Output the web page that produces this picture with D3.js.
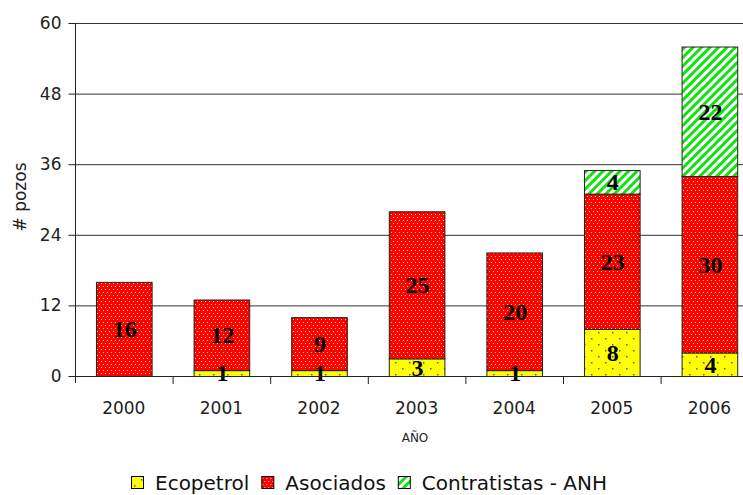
<!DOCTYPE html>
<html>
<head>
<meta charset="utf-8">
<script src="https://cdn.jsdelivr.net/npm/d3@7"></script>
<style>
  body { margin: 0; background: #fff; }
  svg { display: block; }
</style>
</head>
<body>
<svg id="chart" width="743" height="495"></svg>
<script>
// wells drilled per year, by operator
const years = ["2000", "2001", "2002", "2003", "2004", "2005", "2006"];
const ecopetrol = [0, 1, 1, 3, 1, 8, 4];
const asociados = [16, 12, 9, 25, 20, 23, 30];
const contratistas = [0, 0, 0, 0, 0, 4, 22];
const seriesNames = ["Ecopetrol", "Asociados", "Contratistas - ANH"];
const yTicks = [0, 12, 24, 36, 48, 60];

const svg = d3.select("#chart");
const plotLeft = 75, plotTop = 23, plotBottom = 376;
const step = 97.6;

const rows = years.map((y, i) => ({
  year: y,
  Ecopetrol: ecopetrol[i],
  Asociados: asociados[i],
  "Contratistas - ANH": contratistas[i],
}));

const x = d3.scaleBand()
  .domain(years)
  .range([plotLeft, plotLeft + step * years.length])
  .paddingInner(0.43)
  .paddingOuter(0.215);

const y = d3.scaleLinear().domain([0, 60]).range([plotBottom, plotTop]);

// fill patterns
const defs = svg.append("defs");

const pRed = defs.append("pattern")
  .attr("id", "p-red").attr("patternUnits", "userSpaceOnUse")
  .attr("width", 4).attr("height", 6);
pRed.append("rect").attr("width", 4).attr("height", 6).attr("fill", "#ff0000");
pRed.append("rect").attr("x", 1).attr("y", 1).attr("width", 1).attr("height", 1).attr("fill", "#ffe070");
pRed.append("rect").attr("x", 3).attr("y", 4).attr("width", 1).attr("height", 1).attr("fill", "#ffe070");

const pYel = defs.append("pattern")
  .attr("id", "p-yel").attr("patternUnits", "userSpaceOnUse")
  .attr("width", 14).attr("height", 12);
pYel.append("rect").attr("width", 14).attr("height", 12).attr("fill", "#ffff00");
pYel.append("rect").attr("x", 3).attr("y", 2).attr("width", 1.5).attr("height", 1.5).attr("fill", "#5050c8");
pYel.append("rect").attr("x", 10).attr("y", 8).attr("width", 1.5).attr("height", 1.5).attr("fill", "#5050c8");

const pGrn = defs.append("pattern")
  .attr("id", "p-grn").attr("patternUnits", "userSpaceOnUse")
  .attr("width", 6).attr("height", 6)
  .attr("patternTransform", "rotate(45)");
pGrn.append("rect").attr("width", 6).attr("height", 6).attr("fill", "#ffffff");
pGrn.append("rect").attr("width", 3).attr("height", 6).attr("fill", "#11e011");

const fills = {
  "Ecopetrol": "url(#p-yel)",
  "Asociados": "url(#p-red)",
  "Contratistas - ANH": "url(#p-grn)",
};

// gridlines
svg.append("g")
  .selectAll("line")
  .data(yTicks.filter(d => d > 0))
  .join("line")
  .attr("x1", plotLeft).attr("x2", 743)
  .attr("y1", d => y(d) + 0.5).attr("y2", d => y(d) + 0.5)
  .attr("stroke", "#333").attr("stroke-width", 1);

// stacked bars
const stack = d3.stack().keys(seriesNames)(rows);

const layers = svg.append("g")
  .selectAll("g")
  .data(stack)
  .join("g")
  .attr("fill", d => fills[d.key]);

layers.selectAll("rect")
  .data(d => d.filter(s => s[1] - s[0] > 0))
  .join("rect")
  .attr("x", d => x(d.data.year) + 0.5)
  .attr("y", d => y(d[1]) + 0.5)
  .attr("width", x.bandwidth())
  .attr("height", d => y(d[0]) - y(d[1]))
  .attr("stroke", "#222")
  .attr("stroke-width", 1);

// value labels
const labels = svg.append("g");
stack.forEach(layer => {
  labels.selectAll(null)
    .data(layer.filter(s => s[1] - s[0] > 0))
    .join("text")
    .attr("x", d => x(d.data.year) + x.bandwidth() / 2 + 1)
    .attr("y", d => y((d[0] + d[1]) / 2))
    .attr("dy", "0.35em")
    .attr("text-anchor", "middle")
    .attr("fill", "#000")
    .attr("font-family", "'Liberation Serif', serif")
    .attr("font-weight", "bold")
    .attr("font-size", 24)
    .text(d => d[1] - d[0]);
});

// y axis
const yAxis = svg.append("g")
  .attr("transform", `translate(${plotLeft + 0.5},0)`)
  .call(d3.axisLeft(y).tickValues(yTicks).tickSize(7).tickPadding(7).tickSizeOuter(0));
yAxis.select(".domain").remove();
yAxis.append("line").attr("y1", plotTop).attr("y2", plotBottom + 7).attr("stroke", "#222");
yAxis.selectAll(".tick line").attr("stroke", "#222");
yAxis.selectAll("text")
  .attr("font-family", "'DejaVu Sans', sans-serif")
  .attr("font-size", 17)
  .attr("fill", "#222");

// x axis baseline, ticks between categories, labels
svg.append("line")
  .attr("x1", plotLeft).attr("x2", 743)
  .attr("y1", plotBottom + 0.5).attr("y2", plotBottom + 0.5)
  .attr("stroke", "#222");

svg.append("g")
  .selectAll("line")
  .data(years.slice(1))
  .join("line")
  .attr("x1", d => x(d) - x.step() * x.paddingInner() / 2 + 0.5)
  .attr("x2", d => x(d) - x.step() * x.paddingInner() / 2 + 0.5)
  .attr("y1", plotBottom).attr("y2", plotBottom + 8)
  .attr("stroke", "#222");

svg.append("g")
  .selectAll("text")
  .data(years)
  .join("text")
  .attr("x", d => x(d) + x.bandwidth() / 2)
  .attr("y", 408)
  .attr("dy", "0.35em")
  .attr("text-anchor", "middle")
  .attr("font-family", "'DejaVu Sans', sans-serif")
  .attr("font-size", 17)
  .attr("fill", "#222")
  .text(d => d);

// axis titles
svg.append("text")
  .attr("x", 415).attr("y", 438)
  .attr("dy", "0.35em")
  .attr("text-anchor", "middle")
  .attr("font-family", "'DejaVu Sans', sans-serif")
  .attr("font-size", 12)
  .attr("fill", "#222")
  .text("AÑO");

svg.append("text")
  .attr("transform", "translate(20,197) rotate(-90)")
  .attr("dy", "0.35em")
  .attr("text-anchor", "middle")
  .attr("font-family", "'DejaVu Sans', sans-serif")
  .attr("font-size", 17)
  .attr("fill", "#222")
  .text("# pozos");

// legend
const legend = svg.append("g").attr("transform", "translate(131,483)");
let lx = 0;
seriesNames.forEach(name => {
  const g = legend.append("g").attr("transform", `translate(${lx},0)`);
  g.append("rect")
    .attr("x", 0.5).attr("y", -6.5)
    .attr("width", 12).attr("height", 12)
    .attr("fill", fills[name])
    .attr("stroke", "#000");
  const t = g.append("text")
    .attr("x", 24).attr("y", 0)
    .attr("dy", "0.35em")
    .attr("font-family", "'DejaVu Sans', sans-serif")
    .attr("font-size", 20)
    .attr("fill", "#111")
    .text(name);
  lx += 24 + t.node().getComputedTextLength() + 12;
});
</script>
</body>
</html>
